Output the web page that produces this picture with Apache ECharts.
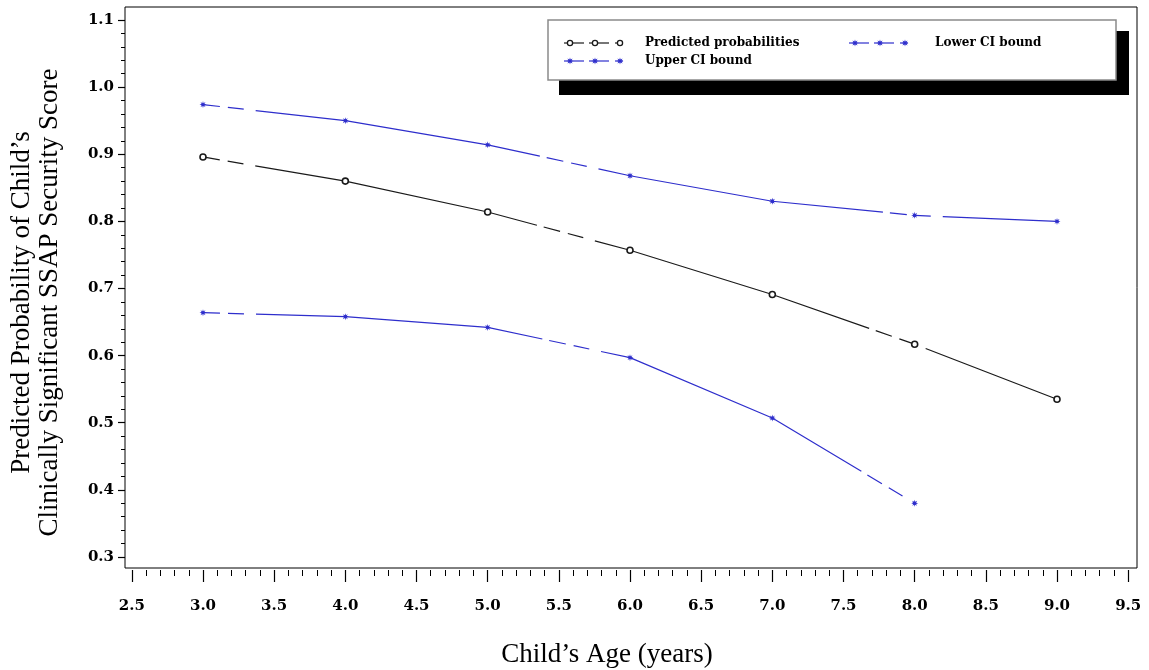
<!DOCTYPE html>
<html>
<head>
<meta charset="utf-8">
<script src="https://cdn.jsdelivr.net/npm/echarts@6/dist/echarts.min.js"></script>
<style>
  html, body { margin: 0; padding: 0; background: #fff; }
  #chart { width: 1149px; height: 670px; }
</style>
</head>
<body>
<div id="chart"></div>
<script>
// Child's age (years) at which probabilities were estimated
const ages = [3, 4, 5, 6, 7, 8, 9];
const predicted = [0.896, 0.860, 0.814, 0.757, 0.691, 0.617, 0.535];
const upperCI = [0.974, 0.950, 0.914, 0.868, 0.830, 0.809, 0.800];
const lowerAges = [3, 4, 5, 6, 7, 8];
const lowerCI = [0.664, 0.658, 0.642, 0.597, 0.507, 0.380];

// Axis tick labels
const xTicks = [2.5, 3.0, 3.5, 4.0, 4.5, 5.0, 5.5, 6.0, 6.5, 7.0, 7.5, 8.0, 8.5, 9.0, 9.5];
const yTicks = [0.3, 0.4, 0.5, 0.6, 0.7, 0.8, 0.9, 1.0, 1.1];

const seriesNames = ['Predicted probabilities', 'Upper CI bound', 'Lower CI bound'];

const X_MIN = 2.452, X_MAX = 9.562;
const Y_MIN = 0.2836, Y_MAX = 1.1194;

const BLACK = '#1a1a1a';
const BLUE = '#2e2ecc';
const LABEL_FONT = '"DejaVu Serif", serif';
const TITLE_FONT = '"Liberation Serif", "Times New Roman", serif';

// minor ticks: five per major step
function minorTicks(major, lo, hi) {
  const step = (major[1] - major[0]) / 5;
  const out = [];
  for (let i = -5; i <= (major.length - 1) * 5 + 5; i++) {
    const v = +(major[0] + i * step).toFixed(4);
    if (v >= lo && v <= hi) out.push(v);
  }
  return out;
}

// long-dash pattern: long solid run, then two short dashes
const DASH = [288, 7, 17, 8, 16, 12];
const DASH_OFFSET = 295;

// small 8-point star marker for the CI bounds
function starPoints(cx, cy, ro, ri) {
  const pts = [];
  for (let k = 0; k < 16; k++) {
    const r = k % 2 ? ri : ro;
    const a = Math.PI * k / 8;
    pts.push([cx + r * Math.cos(a), cy + r * Math.sin(a)]);
  }
  return pts;
}
const starPath = 'path://' + starPoints(5, 5, 5, 2.2)
  .map((p, i) => (i ? 'L' : 'M') + p[0].toFixed(2) + ',' + p[1].toFixed(2)).join(' ') + ' Z';

function pairs(xs, ys) { return xs.map((x, i) => [x, ys[i]]); }

const chart = echarts.init(document.getElementById('chart'), null, { renderer: 'canvas' });

const tickLabel = { fontFamily: LABEL_FONT, fontWeight: 'bold', fontSize: 15, color: '#000' };

// legend drawn as a framed box with a drop shadow
const legendX = 548, legendY = 20;
function sample(x0, y, color, isCircle) {
  const els = [];
  const segs = [[x0 - 6, x0 + 14], [x0 + 19, x0 + 39], [x0 + 45, x0 + 53]];
  segs.forEach(s => els.push({
    type: 'line', shape: { x1: s[0], y1: y, x2: s[1], y2: y },
    style: { stroke: color, lineWidth: 1.2 }
  }));
  [x0, x0 + 25, x0 + 50].forEach(cx => {
    if (isCircle) {
      els.push({ type: 'circle', shape: { cx: cx, cy: y, r: 2.6 },
        style: { fill: '#fff', stroke: color, lineWidth: 1.3 } });
    } else {
      els.push({ type: 'polygon', shape: { points: starPoints(cx, y, 3.6, 1.6) },
        style: { fill: color } });
    }
  });
  return els;
}
const legendText = (x, y, t) => ({
  type: 'text', x: x, y: y,
  style: { text: t, fontFamily: LABEL_FONT, fontWeight: 'bold', fontSize: 12,
    fill: '#000', verticalAlign: 'middle', align: 'left' }
});

const graphic = [
  { type: 'rect', shape: { x: legendX + 11, y: legendY + 11, width: 570, height: 64 },
    style: { fill: '#000' } },
  { type: 'rect', shape: { x: legendX, y: legendY, width: 568, height: 60 },
    style: { fill: '#fff', stroke: '#8a8a8a', lineWidth: 1.5 } },
  ...sample(570, 43, BLACK, true),
  legendText(645, 43, seriesNames[0]),
  ...sample(570, 61, BLUE, false),
  legendText(645, 61, seriesNames[1]),
  ...sample(855, 43, BLUE, false),
  legendText(935, 43, seriesNames[2])
];

const option = {
  animation: false,
  backgroundColor: '#fff',
  grid: { left: 125, top: 7, right: 12, bottom: 102, show: true,
    containLabel: false, outerBoundsMode: 'none',
    borderColor: '#000', borderWidth: 1, backgroundColor: 'transparent' },
  xAxis: [
    {
      type: 'value', min: X_MIN, max: X_MAX, position: 'bottom', offset: 2,
      axisLine: { show: false }, splitLine: { show: false },
      axisTick: { show: true, length: 12, customValues: xTicks, lineStyle: { color: '#000', width: 1.2 } },
      axisLabel: { customValues: xTicks, margin: 29, formatter: v => v.toFixed(1), ...tickLabel },
      name: 'Child\u2019s Age (years)', nameLocation: 'middle', nameGap: 71,
      nameTextStyle: { fontFamily: TITLE_FONT, fontSize: 27, color: '#000', padding: [0, 48, 0, 0] }
    },
    {
      type: 'value', min: X_MIN, max: X_MAX, position: 'bottom', offset: 2,
      axisLine: { show: false }, splitLine: { show: false },
      axisTick: { show: true, length: 6, customValues: minorTicks(xTicks, X_MIN, X_MAX), lineStyle: { color: '#000', width: 1 } },
      axisLabel: { show: false }
    }
  ],
  yAxis: [
    {
      type: 'value', min: Y_MIN, max: Y_MAX, position: 'left',
      axisLine: { show: false }, splitLine: { show: false },
      axisTick: { show: true, length: 7, customValues: yTicks, lineStyle: { color: '#000', width: 1.2 } },
      axisLabel: { customValues: yTicks, margin: 11, formatter: v => v.toFixed(1), ...tickLabel },
      name: 'Predicted Probability of Child\u2019s\nClinically Significant SSAP Security Score',
      nameLocation: 'middle', nameGap: 61, nameRotate: 90,
      nameTextStyle: { fontFamily: TITLE_FONT, fontSize: 27, lineHeight: 28, color: '#000', padding: [0, 30, 0, 0] }
    },
    {
      type: 'value', min: Y_MIN, max: Y_MAX, position: 'left',
      axisLine: { show: false }, splitLine: { show: false },
      axisTick: { show: true, length: 4, customValues: minorTicks(yTicks, Y_MIN, Y_MAX), lineStyle: { color: '#000', width: 1 } },
      axisLabel: { show: false }
    }
  ],
  series: [
    {
      name: seriesNames[0], type: 'line', data: pairs(ages, predicted),
      symbol: 'circle', symbolSize: 6,
      itemStyle: { color: '#fff', borderColor: BLACK, borderWidth: 1.6 },
      lineStyle: { color: BLACK, width: 1.2, type: DASH, dashOffset: DASH_OFFSET },
      z: 3
    },
    {
      name: seriesNames[1], type: 'line', data: pairs(ages, upperCI),
      symbol: starPath, symbolSize: 7,
      itemStyle: { color: BLUE },
      lineStyle: { color: BLUE, width: 1.2, type: DASH, dashOffset: DASH_OFFSET },
      z: 2
    },
    {
      name: seriesNames[2], type: 'line', data: pairs(lowerAges, lowerCI),
      symbol: starPath, symbolSize: 7,
      itemStyle: { color: BLUE },
      lineStyle: { color: BLUE, width: 1.2, type: DASH, dashOffset: DASH_OFFSET },
      z: 2
    }
  ],
  graphic: graphic
};

chart.setOption(option);
</script>
</body>
</html>
